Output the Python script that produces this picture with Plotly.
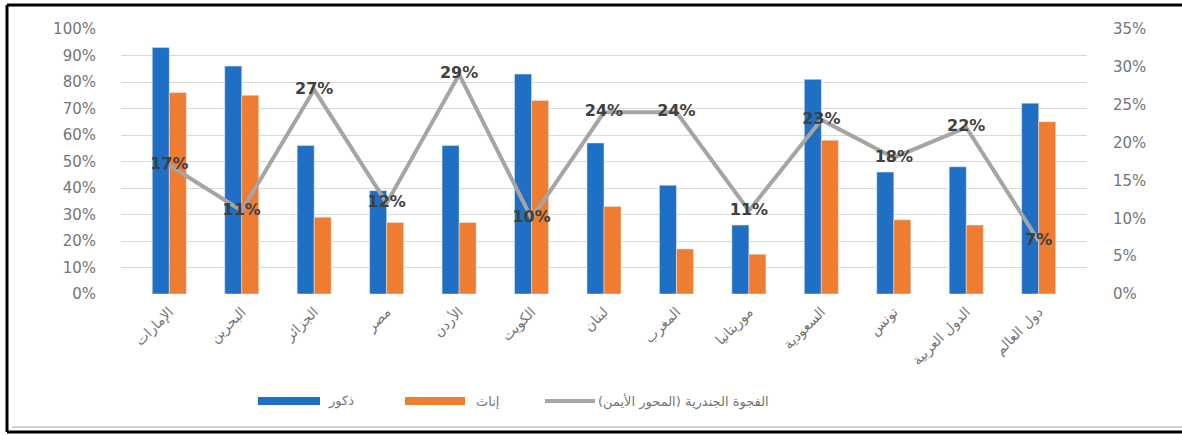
import plotly.graph_objects as go

# Countries / groups on the category axis
categories = ["الإمارات", "البحرين", "الجزائر", "مصر", "الأردن", "الكويت", "لبنان",
              "المغرب", "موريتانيا", "السعودية", "تونس", "الدول العربية", "دول العالم"]

# Participation rates (%) by sex
males = [93, 86, 56, 39, 56, 83, 57, 41, 26, 81, 46, 48, 72]
females = [76, 75, 29, 27, 27, 73, 33, 17, 15, 58, 28, 26, 65]

# Gender gap (%) plotted on the right-hand axis
gap = [17, 11, 27, 12, 29, 10, 24, 24, 11, 23, 18, 22, 7]

left_ticks = list(range(0, 101, 10))
right_ticks = list(range(0, 36, 5))

BLUE = "#1f6fc5"
ORANGE = "#ef7d31"
GREY_LINE = "#a5a5a5"
TEXT = "#757575"

W, H = 1182, 435
ML, MR, MT, MB = 121, 95, 29, 141
PW, PH = W - ML - MR, H - MT - MB


def px_x(x):
    return (x - ML) / PW


def px_y(y):
    return (H - MB - y) / PH


fig = go.Figure()
fig.add_trace(go.Bar(x=categories, y=males, name="ذكور", marker_color=BLUE,
                     showlegend=False))
fig.add_trace(go.Bar(x=categories, y=females, name="إناث", marker_color=ORANGE,
                     showlegend=False))
fig.add_trace(go.Scatter(
    x=categories, y=gap, yaxis="y2", mode="lines+text",
    name="الفجوة الجندرية (المحور الأيمن)",
    line=dict(color=GREY_LINE, width=4),
    text=[f"{v}%" for v in gap], textposition="middle center",
    textfont=dict(family="DejaVu Sans", size=16, color="#404040", weight="bold"),
    showlegend=False, cliponaxis=False,
))

fig.update_layout(
    width=W, height=H,
    margin=dict(l=ML, r=MR, t=MT, b=MB),
    paper_bgcolor="white", plot_bgcolor="white",
    barmode="group", bargap=0.53, bargroupgap=0,
    font=dict(family="DejaVu Sans", color=TEXT),
    xaxis=dict(
        type="category", tickangle=-45, showgrid=False, showline=False,
        ticks="", tickfont=dict(family="DejaVu Sans", size=14, color=TEXT),
        ticklabelstandoff=6,
    ),
    yaxis=dict(
        range=[0, 100], tickvals=left_ticks,
        ticktext=[f"{v}%" for v in left_ticks],
        showgrid=True, gridcolor="#d9d9d9", gridwidth=1,
        zeroline=False, showline=False, ticks="",
        tickfont=dict(family="DejaVu Sans", size=15, color=TEXT),
        ticklabelstandoff=24,
    ),
    yaxis2=dict(
        range=[0, 35], tickvals=right_ticks,
        ticktext=[f"{v}%" for v in right_ticks],
        overlaying="y", side="right", showgrid=False, zeroline=False,
        showline=False, ticks="",
        tickfont=dict(family="DejaVu Sans", size=15, color=TEXT),
        ticklabelstandoff=25,
    ),
)

# Legend drawn as swatches + labels under the plot
legend_y = px_y(401)
shapes = [
    dict(type="rect", xref="paper", yref="paper",
         x0=px_x(258), x1=px_x(320), y0=px_y(405), y1=px_y(397),
         fillcolor=BLUE, line=dict(width=0)),
    dict(type="rect", xref="paper", yref="paper",
         x0=px_x(405), x1=px_x(465), y0=px_y(405), y1=px_y(397),
         fillcolor=ORANGE, line=dict(width=0)),
    dict(type="line", xref="paper", yref="paper",
         x0=px_x(545), x1=px_x(595), y0=legend_y, y1=legend_y,
         line=dict(color=GREY_LINE, width=4)),
    # chart frame
    dict(type="line", xref="paper", yref="paper",
         x0=px_x(7), x1=px_x(1190), y0=px_y(5), y1=px_y(5),
         line=dict(color="black", width=3)),
    dict(type="line", xref="paper", yref="paper",
         x0=px_x(7), x1=px_x(7), y0=px_y(5), y1=px_y(432),
         line=dict(color="black", width=3)),
    dict(type="line", xref="paper", yref="paper",
         x0=px_x(7), x1=px_x(1190), y0=px_y(432), y1=px_y(432),
         line=dict(color="black", width=3)),
    dict(type="line", xref="paper", yref="paper",
         x0=px_x(12), x1=px_x(1190), y0=px_y(427), y1=px_y(427),
         line=dict(color="#d0d0d0", width=2)),
]
annotations = [
    dict(xref="paper", yref="paper", x=px_x(326), y=legend_y, text="ذكور",
         showarrow=False, xanchor="left", yanchor="middle",
         font=dict(family="DejaVu Sans", size=13, color=TEXT)),
    dict(xref="paper", yref="paper", x=px_x(474), y=legend_y, text="إناث",
         showarrow=False, xanchor="left", yanchor="middle",
         font=dict(family="DejaVu Sans", size=13, color=TEXT)),
    dict(xref="paper", yref="paper", x=px_x(596), y=legend_y,
         text="الفجوة الجندرية (المحور الأيمن)",
         showarrow=False, xanchor="left", yanchor="middle",
         font=dict(family="DejaVu Sans", size=13, color=TEXT)),
]
fig.update_layout(shapes=shapes, annotations=annotations)

fig.write_html("out.html")
